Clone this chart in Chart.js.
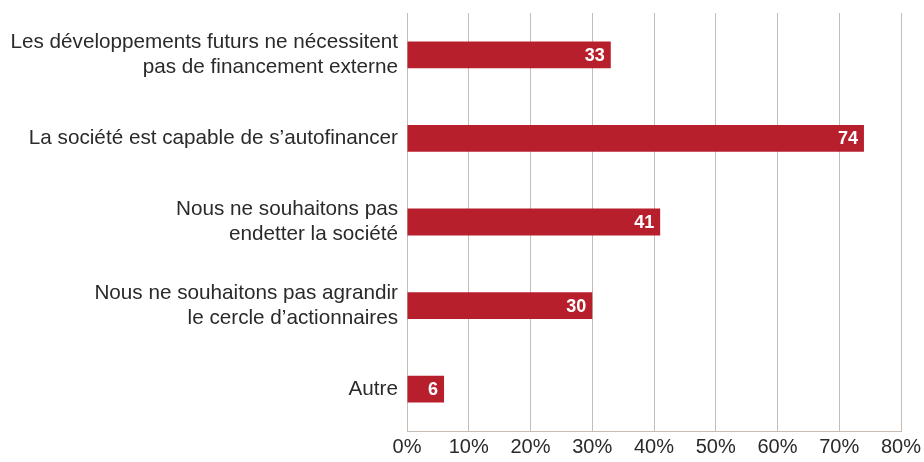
<!DOCTYPE html>
<html lang="fr">
<head>
<meta charset="utf-8">
<script src="https://cdn.jsdelivr.net/npm/chart.js@4/dist/chart.umd.min.js"></script>
<style>
  html, body { margin: 0; padding: 0; background: #fff; }
  #wrap { width: 924px; height: 462px; }
</style>
</head>
<body>
<div id="wrap"><canvas id="chart" width="924" height="462"></canvas></div>
<script>
// ── Data ─────────────────────────────────────────────────
const categories = [
    ['Les développements futurs ne nécessitent', 'pas de financement externe'],
    'La société est capable de s\u2019autofinancer',
    ['Nous ne souhaitons pas', 'endetter la société'],
    ['Nous ne souhaitons pas agrandir', 'le cercle d\u2019actionnaires'],
    'Autre',
];
const values = [33, 74, 41, 30, 6];
const xTicks = [0, 10, 20, 30, 40, 50, 60, 70, 80];

const BAR_RED  = '#b81f2d';
const GRID     = '#c6bcb4';
const TEXT     = '#2a2a2a';
const FONT     = "'Liberation Sans', Arial, sans-serif";

// ── Value labels drawn at the end of each bar ────────────
const barValueLabels = {
    id: 'barValueLabels',
    afterDatasetsDraw(chart) {
        const ctx  = chart.ctx;
        const meta = chart.getDatasetMeta(0);
        ctx.save();
        ctx.fillStyle = '#ffffff';
        ctx.font = `bold 18px ${FONT}`;
        ctx.textAlign = 'right';
        ctx.textBaseline = 'middle';
        meta.data.forEach((bar, i) => {
            ctx.fillText(String(values[i]), bar.x - 6, bar.y + 1);
        });
        ctx.restore();
    }
};

// keep the plot area where we put it: no extra room for overhanging labels
const noOverhang = s => {
    s.paddingTop = 0; s.paddingBottom = 0;
    s.paddingLeft = 0; s.paddingRight = 0;
};

new Chart(document.getElementById('chart').getContext('2d'), {
    type: 'bar',
    data: {
        labels: categories,
        datasets: [{
            data: values,
            backgroundColor: BAR_RED,
            borderWidth: 0,
            barPercentage: 0.32,
            categoryPercentage: 1,
        }],
    },
    options: {
        indexAxis: 'y',
        responsive: false,
        animation: false,
        layout: { padding: { top: 13, right: 23, left: 0, bottom: 0 } },
        plugins: {
            legend: { display: false },
            tooltip: { enabled: false },
        },
        scales: {
            x: {
                min: 0,
                max: 80,
                afterBuildTicks: s => { s.ticks = xTicks.map(v => ({ value: v })); },
                afterFit: s => { s.height = 31; noOverhang(s); },
                grid: { color: GRID, lineWidth: 1, drawTicks: false },
                border: { color: GRID, width: 1 },
                ticks: {
                    color: TEXT,
                    padding: 4,
                    maxRotation: 0,
                    font: { family: FONT, size: 20 },
                    callback: v => v + '%',
                },
            },
            y: {
                afterFit: s => { s.width = 407; noOverhang(s); },
                grid: { display: false, drawTicks: false },
                border: { color: GRID, width: 1 },
                ticks: {
                    color: TEXT,
                    padding: 9,
                    font: { family: FONT, size: 20.7, lineHeight: 1.22 },
                },
            },
        },
    },
    plugins: [barValueLabels],
});
</script>
</body>
</html>
